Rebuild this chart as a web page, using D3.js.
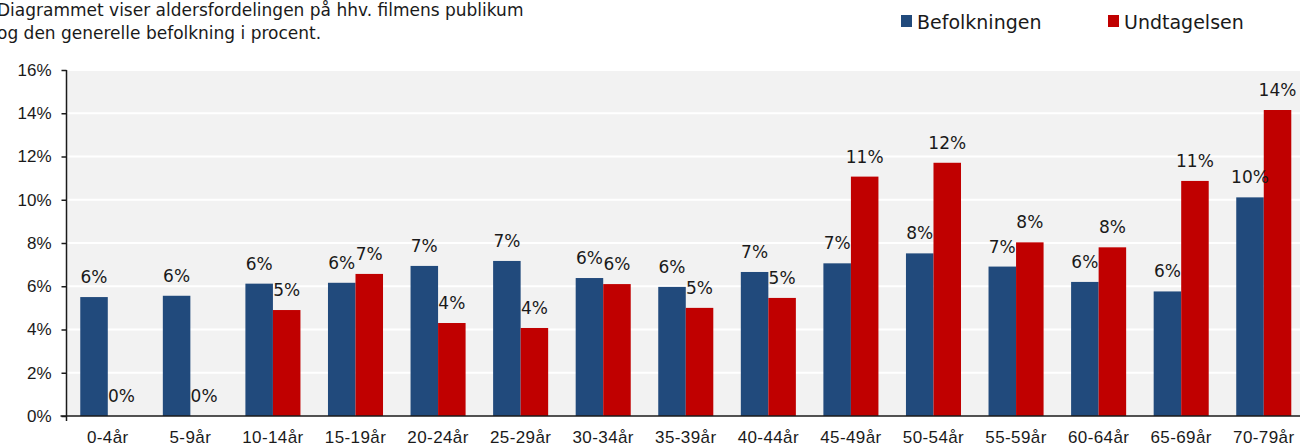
<!DOCTYPE html>
<html>
<head>
<meta charset="utf-8">
<script src="https://cdn.jsdelivr.net/npm/d3@7"></script>
<style>
  body { margin: 0; background: #fff; }
  svg { display: block; font-family: Verdana, "DejaVu Sans", sans-serif; }
</style>
</head>
<body>
<svg id="chart" width="1300" height="447"></svg>
<script>
const ageGroups = ['0-4år', '5-9år', '10-14år', '15-19år', '20-24år', '25-29år', '30-34år',
    '35-39år', '40-44år', '45-49år', '50-54år', '55-59år', '60-64år', '65-69år', '70-79år'];
const befolkningen = [5.5, 5.56, 6.12, 6.16, 6.94, 7.17, 6.38, 5.97, 6.66, 7.06, 7.52, 6.91, 6.2, 5.76, 10.11];
const undtagelsen = [0, 0, 4.9, 6.57, 4.3, 4.07, 6.1, 5.0, 5.46, 11.07, 11.71, 8.03, 7.8, 10.87, 14.15];
const seriesNames = ['Befolkningen', 'Undtagelsen'];
const seriesColors = ['#214a7c', '#c00000'];
const yTicks = [0, 2, 4, 6, 8, 10, 12, 14, 16];
const titleLines = ['Diagrammet viser aldersfordelingen på hhv. filmens publikum',
    'og den generelle befolkning i procent.'];

const svg = d3.select('#chart');
const margin = {top: 70, left: 66.5, bottom: 31};
const plotW = 15 * 82.57, plotH = 447 - margin.top - margin.bottom;
const ink = '#1a1a1a';

//Scales.
const x = d3.scaleBand().domain(ageGroups).range([0, plotW]).paddingInner(1 / 3).paddingOuter(1 / 6);
const xs = d3.scaleBand().domain(seriesNames).range([0, x.bandwidth()]);
const y = d3.scaleLinear().domain([0, 16]).range([plotH, 0]);

const g = svg.append('g').attr('transform', `translate(${margin.left},${margin.top})`);

//Plot background and gridlines.
g.append('rect')
    .attr('x', 0).attr('y', 0).attr('width', plotW).attr('height', plotH)
    .attr('fill', '#f2f2f2');
g.selectAll('.grid')
    .data(yTicks.slice(1))
    .join('line')
    .attr('x1', 0).attr('x2', plotW)
    .attr('y1', d => y(d)).attr('y2', d => y(d))
    .attr('stroke', '#fff').attr('stroke-width', 2);

//Bars and value labels.
const data = ageGroups.map((k, i) => ({key: k, values: [befolkningen[i], undtagelsen[i]]}));
const groups = g.selectAll('.group')
    .data(data)
    .join('g')
    .attr('transform', d => `translate(${x(d.key)},0)`);
groups.selectAll('rect')
    .data(d => d.values.map((v, j) => ({name: seriesNames[j], v, j})))
    .join('rect')
    .attr('x', d => xs(d.name))
    .attr('y', d => y(d.v))
    .attr('width', xs.bandwidth())
    .attr('height', d => plotH - y(d.v))
    .attr('fill', d => seriesColors[d.j]);
groups.selectAll('text')
    .data(d => d.values.map((v, j) => ({name: seriesNames[j], v, j})))
    .join('text')
    .attr('x', d => xs(d.name) + xs.bandwidth() / 2)
    .attr('y', d => y(d.v) - 14)
    .attr('text-anchor', 'middle')
    .attr('font-size', 17)
    .attr('fill', ink)
    .text(d => `${Math.round(d.v)}%`);

//Axes.
const yAxis = g.append('g')
    .call(d3.axisLeft(y).tickValues(yTicks).tickSize(5).tickPadding(10).tickFormat(d => d + '%'));
yAxis.select('.domain').attr('d', `M0,0V${plotH}`).attr('stroke', ink).attr('stroke-width', 1.5);
yAxis.selectAll('.tick line').attr('stroke', ink).attr('stroke-width', 1.5);
yAxis.selectAll('text').attr('font-size', 17).attr('font-family', null).attr('fill', ink);

const xAxis = g.append('g')
    .attr('transform', `translate(0,${plotH})`)
    .call(d3.axisBottom(x).tickSize(0).tickPadding(15));
xAxis.select('.domain').attr('d', `M-6,0H${plotW}`).attr('stroke', ink).attr('stroke-width', 1.5);
xAxis.selectAll('text').attr('font-size', 17).attr('font-family', null).attr('fill', ink)
    .attr('letter-spacing', 0.4);
xAxis.append('line').attr('x1', 0).attr('x2', 0).attr('y1', 0).attr('y2', 5)
    .attr('stroke', ink).attr('stroke-width', 1.5);

//Title.
svg.append('g').selectAll('text')
    .data(titleLines)
    .join('text')
    .attr('x', -3)
    .attr('y', (d, i) => 16 + i * 23)
    .attr('font-size', 17)
    .attr('fill', ink)
    .text(d => d);

//Legend.
const legend = svg.append('g').selectAll('g')
    .data(seriesNames)
    .join('g')
    .attr('transform', (d, i) => `translate(${901 + i * 207},15)`);
legend.append('rect')
    .attr('width', 11).attr('height', 12)
    .attr('fill', (d, i) => seriesColors[i]);
legend.append('text')
    .attr('x', 16).attr('y', 14)
    .attr('font-size', 19)
    .attr('fill', ink)
    .text(d => d);
</script>
</body>
</html>
